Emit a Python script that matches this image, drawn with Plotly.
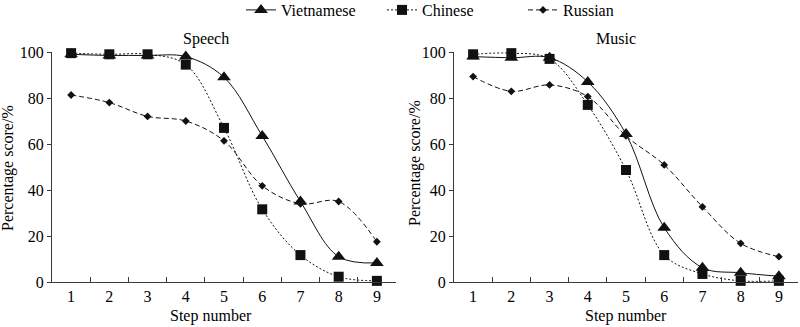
import plotly.graph_objects as go

steps = [1, 2, 3, 4, 5, 6, 7, 8, 9]

speech_vietnamese = [99, 98.5, 98.5, 98, 89, 63.5, 35, 11, 8.3]
speech_chinese = [99.5, 99, 99, 94.5, 67, 31.6, 11.7, 2.3, 0.5]
speech_russian = [81.3, 78, 72, 70, 61.4, 41.8, 34, 35, 17.5]

music_vietnamese = [98, 97.5, 97.5, 87, 64.3, 23.6, 6.2, 4, 2.5]
music_chinese = [99, 99.5, 97, 77, 48.7, 11.7, 3.5, 0.5, 0.5]
music_russian = [89.3, 82.9, 85.7, 80.6, 63.5, 50.9, 32.7, 16.8, 11]

yticks = [0, 20, 40, 60, 80, 100]

FONT = "Liberation Serif"
INK = "#111111"
AX = "#3a3a3a"
FS = 16

series = [
    ("Vietnamese", "solid", "triangle-up", 12, speech_vietnamese, music_vietnamese),
    ("Chinese", "2px,2px", "square", 10, speech_chinese, music_chinese),
    ("Russian", "5px,3px", "diamond", 6, speech_russian, music_russian),
]

cats = [str(s) for s in steps]

fig = go.Figure()
for name, dash, sym, size, sp, mu in series:
    for i, (vals, xa, ya) in enumerate([(sp, "x", "y"), (mu, "x2", "y2")]):
        fig.add_trace(go.Scatter(
            x=cats, y=vals, xaxis=xa, yaxis=ya, name=name,
            mode="lines+markers", showlegend=(i == 0),
            line=dict(color=INK, width=1, dash=dash, shape="spline", smoothing=1),
            marker=dict(symbol=sym, size=size, color=INK),
            cliponaxis=False,
        ))

def xax(domain, anchor):
    return dict(
        domain=domain, anchor=anchor, type="category", range=[-0.5, 8.5],
        categoryorder="array", categoryarray=cats, automargin=False,
        tickson="boundaries", ticks="inside", ticklen=5, tickcolor=AX, tickwidth=1,
        ticklabelstandoff=0,
        showline=True, linecolor=AX, linewidth=1.2,
        showgrid=False, zeroline=False,
        tickfont=dict(family=FONT, size=FS, color="black"),
    )

def yax(domain, anchor):
    return dict(
        domain=domain, anchor=anchor, range=[0, 100], automargin=False,
        tickmode="array", tickvals=yticks,
        ticks="outside", ticklen=4, tickcolor=AX, tickwidth=1,
        showline=True, linecolor=AX, linewidth=1.2,
        showgrid=False, zeroline=False,
        tickfont=dict(family=FONT, size=FS, color="black"),
    )

W, H = 800, 327
ydom = [1 - 282 / H, 1 - 52 / H]

def ann(text, px, py, angle=0):
    return dict(text=text, x=px / W, y=1 - py / H, xref="paper", yref="paper",
                xanchor="center", yanchor="middle", showarrow=False, textangle=angle,
                font=dict(family=FONT, size=FS, color="black"))

fig.update_layout(
    width=W, height=H,
    margin=dict(l=0, r=0, t=0, b=0, autoexpand=False),
    paper_bgcolor="white", plot_bgcolor="white",
    font=dict(family=FONT, size=FS, color="black"),
    xaxis=xax([52 / W, 396 / W], "y"),
    yaxis=yax(ydom, "x"),
    xaxis2=xax([454 / W, 798 / W], "y2"),
    yaxis2=yax(ydom, "x2"),
    legend=dict(orientation="h", x=241 / W, y=1 - 10 / H, xanchor="left", yanchor="middle",
                font=dict(family=FONT, size=FS, color="black"), bgcolor="rgba(0,0,0,0)",
                itemwidth=30, entrywidth=96, entrywidthmode="pixels"),
    annotations=[
        ann("Speech", 206, 39),
        ann("Music", 616, 39),
        ann("Percentage score/%", 8, 168, -90),
        ann("Percentage score/%", 415, 163, -90),
        ann("Step number", 211, 316),
        ann("Step number", 626, 316),
    ],
)

fig.write_html("out.html")
